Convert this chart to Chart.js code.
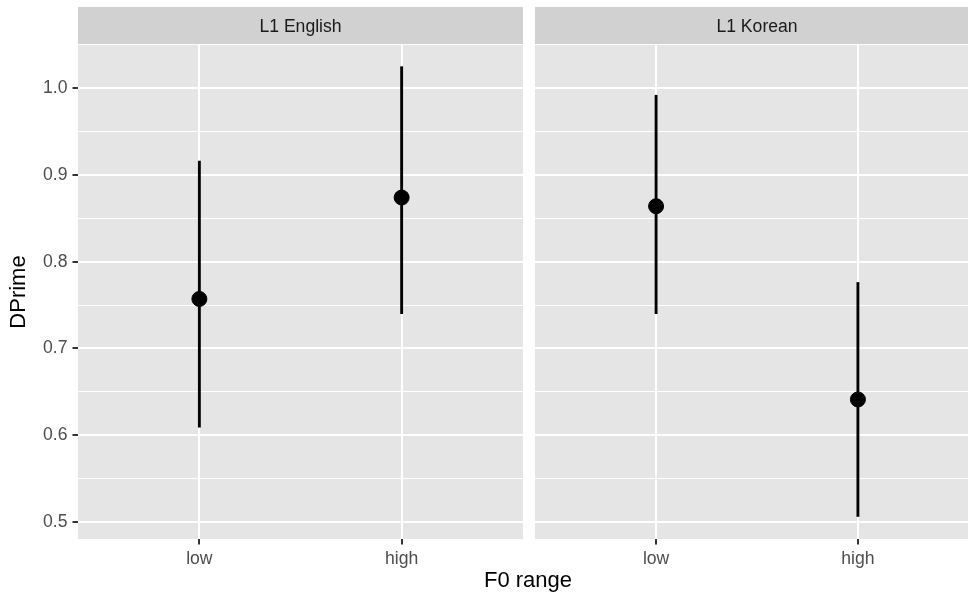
<!DOCTYPE html>
<html>
<head>
<meta charset="utf-8">
<script src="https://cdn.jsdelivr.net/npm/chart.js@4.4.1/dist/chart.umd.min.js"></script>
<style>
  html, body { margin: 0; padding: 0; background: #fff; overflow: hidden; }
  #wrap { position: relative; width: 968px; height: 597px; overflow: hidden; }
  #left { position: absolute; left: 0; top: 0; }
  #right { position: absolute; left: 535px; top: 0; }
  #xtitle {
    position: absolute; left: 378px; width: 300px; top: 567px;
    text-align: center; font: 22px "Liberation Sans", Arial, sans-serif;
    line-height: 26px; color: #000;
  }
</style>
</head>
<body>
<div id="wrap">
  <canvas id="left" width="523" height="597"></canvas>
  <canvas id="right" width="444" height="597"></canvas>
  <div id="xtitle">F0 range</div>
</div>
<script>
// group means with lower / upper interval ends, one pair of arrays per panel
const categories = ['low', 'high'];
const englishMean = [0.757, 0.874];
const englishLower = [0.609, 0.740];
const englishUpper = [0.916, 1.025];
const koreanMean = [0.864, 0.641];
const koreanLower = [0.740, 0.506];
const koreanUpper = [0.992, 0.776];

const majorTicks = [0.5, 0.6, 0.7, 0.8, 0.9, 1.0];
const minorTicks = [0.55, 0.65, 0.75, 0.85, 0.95];

const FONT = '"Liberation Sans", Arial, sans-serif';
const PANEL_BG = '#E5E5E5';
const STRIP_BG = '#D1D1D1';

// grey panel background + facet strip above the plot area
const stripPlugin = {
  id: 'strip',
  beforeDraw(chart, args, opts) {
    const { ctx, chartArea } = chart;
    ctx.save();
    ctx.fillStyle = PANEL_BG;
    ctx.fillRect(chartArea.left, chartArea.top, chartArea.right - chartArea.left, chartArea.bottom - chartArea.top);
    ctx.fillStyle = STRIP_BG;
    ctx.fillRect(chartArea.left, 7, chartArea.right - chartArea.left, 37);
    ctx.fillStyle = '#1A1A1A';
    ctx.font = '17.6px ' + FONT;
    ctx.textAlign = 'center';
    ctx.textBaseline = 'middle';
    ctx.fillText(opts.text, (chartArea.left + chartArea.right) / 2, 27.5);
    ctx.restore();
  }
};

function yTicks() {
  const all = majorTicks.map(v => ({ value: v, isMajor: true }))
    .concat(minorTicks.map(v => ({ value: v, isMajor: false })));
  return all.sort((a, b) => a.value - b.value);
}

function makeChart(id, title, mean, lower, upper, showY) {
  const ctx = document.getElementById(id).getContext('2d');
  return new Chart(ctx, {
    data: {
      datasets: [
        {
          type: 'scatter',
          order: 0,
          data: mean.map((v, i) => ({ x: i, y: v })),
          backgroundColor: '#000',
          borderColor: '#000',
          pointRadius: 7.5,
          pointHoverRadius: 7.5
        },
        {
          type: 'bar',
          order: 1,
          data: lower.map((v, i) => ({ x: i, y: [v, upper[i]] })),
          backgroundColor: '#000',
          borderWidth: 0,
          barThickness: 2.2
        }
      ]
    },
    options: {
      responsive: false,
      animation: false,
      devicePixelRatio: 1,
      layout: { autoPadding: false, padding: { top: 45, bottom: 0, left: 0, right: 0 } },
      plugins: {
        legend: { display: false },
        tooltip: { enabled: false },
        strip: { text: title }
      },
      scales: {
        x: {
          type: 'linear',
          min: -0.6,
          max: 1.6,
          offset: false,
          afterBuildTicks: s => { s.ticks = categories.map((c, i) => ({ value: i })); },
          afterFit: s => { s.height = 58; s.paddingLeft = 0; s.paddingRight = 0; },
          border: { display: false },
          grid: {
            offset: false,
            color: '#FFFFFF',
            lineWidth: 2,
            tickColor: '#333333',
            tickLength: 5.5,
            tickWidth: 2
          },
          ticks: {
            callback: v => categories[v],
            color: '#4D4D4D',
            font: { family: FONT, size: 17.6 },
            padding: 4,
            maxRotation: 0
          }
        },
        y: {
          min: 0.48,
          max: 1.05,
          afterBuildTicks: s => { s.ticks = yTicks(); },
          afterFit: s => { s.width = showY ? 78 : 0; s.paddingTop = 0; s.paddingBottom = 0; },
          border: { display: false },
          grid: {
            color: '#FFFFFF',
            lineWidth: c => (c.tick && c.tick.isMajor ? 2 : 1),
            drawTicks: showY,
            tickColor: c => (c.tick && c.tick.isMajor ? '#333333' : 'rgba(0,0,0,0)'),
            tickLength: 5.5,
            tickWidth: 2
          },
          ticks: {
            display: showY,
            callback: (v, i, ticks) => (ticks[i].isMajor ? v.toFixed(1) : ''),
            color: '#4D4D4D',
            font: { family: FONT, size: 17.6 },
            padding: 5
          },
          title: {
            display: showY,
            text: 'DPrime',
            color: '#000',
            font: { family: FONT, size: 22 },
            padding: { top: 6, bottom: 0 }
          }
        }
      }
    },
    plugins: [stripPlugin]
  });
}

makeChart('left', 'L1 English', englishMean, englishLower, englishUpper, true);
makeChart('right', 'L1 Korean', koreanMean, koreanLower, koreanUpper, false);
</script>
</body>
</html>
